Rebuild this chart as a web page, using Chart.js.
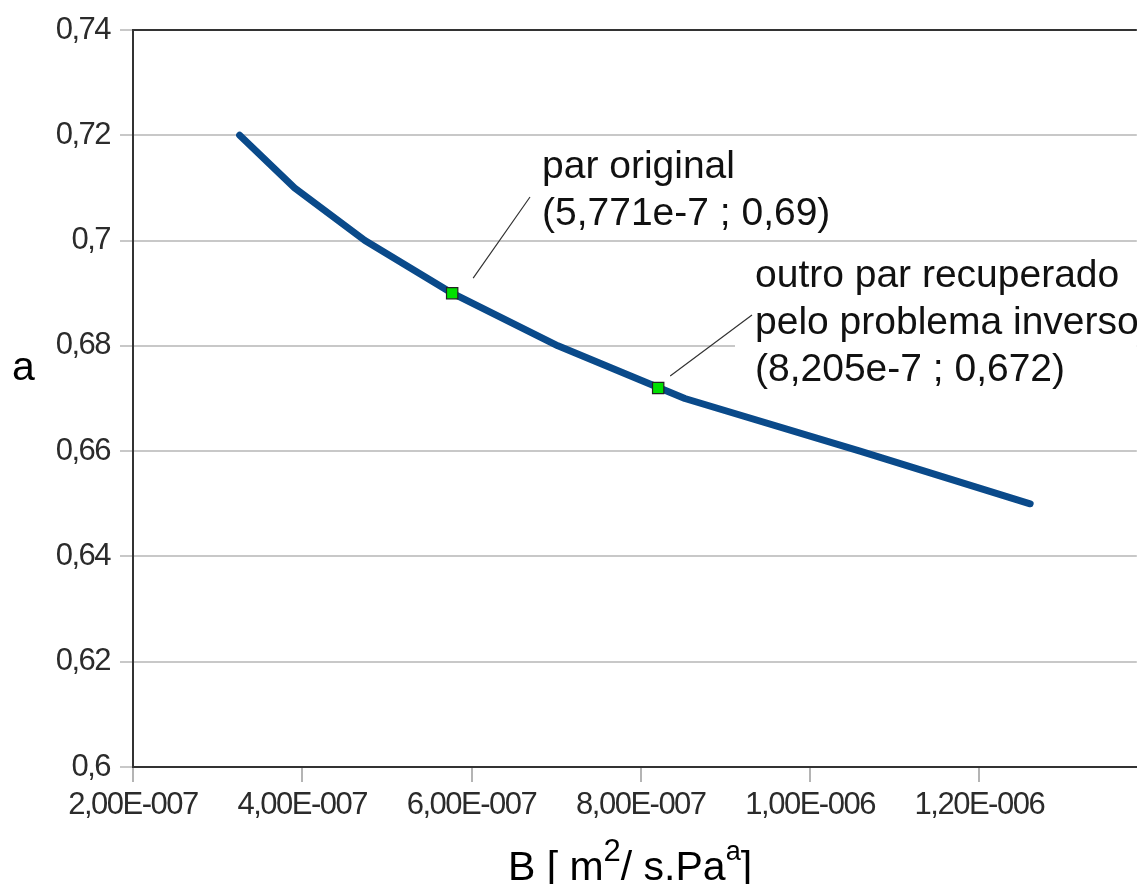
<!DOCTYPE html>
<html>
<head>
<meta charset="utf-8">
<script src="https://cdn.jsdelivr.net/npm/chart.js@4/dist/chart.umd.min.js"></script>
<style>
  html, body { margin: 0; padding: 0; background: #fff; overflow: hidden; }
  canvas { display: block; }
</style>
</head>
<body>
<canvas id="chart" width="1146" height="884"></canvas>
<script>
// Curve of (B, a) pairs that give the same response
const aValues = [0.72, 0.71, 0.70, 0.69, 0.68, 0.67, 0.66, 0.65];
const bValues = [3.26e-7, 3.91e-7, 4.74e-7, 5.771e-7, 7.02e-7, 8.52e-7, 1.059e-6, 1.26e-6];

// Highlighted pairs
const pairB = [5.771e-7, 8.205e-7];
const pairA = [0.69, 0.672];
const pairTexts = [
  ["par original", "(5,771e-7 ; 0,69)"],
  ["outro par recuperado", "pelo problema inverso", "(8,205e-7 ; 0,672)"]
];

// Axes
const xTicks = [2e-7, 4e-7, 6e-7, 8e-7, 1e-6, 1.2e-6];
const xTickLabels = ["2,00E-007", "4,00E-007", "6,00E-007", "8,00E-007", "1,00E-006", "1,20E-006"];
const yTicks = [0.6, 0.62, 0.64, 0.66, 0.68, 0.70, 0.72, 0.74];
const yTickLabels = ["0,6", "0,62", "0,64", "0,66", "0,68", "0,7", "0,72", "0,74"];
const xRange = [2e-7, 1.386e-6];
const yRange = [0.6, 0.74];
const yTitle = "a";

const TEXT_FONT = '"Liberation Sans", Arial, sans-serif';

const framePlugin = {
  id: 'frame',
  beforeDraw(chart) {
    // condensed tick lettering
    chart.ctx.letterSpacing = '-1.5px';
  },
  afterDatasetsDraw(chart) {
    const ctx = chart.ctx;
    const area = chart.chartArea;
    const xs = chart.scales.x, ys = chart.scales.y;
    ctx.save();
    ctx.letterSpacing = '0px';

    // top frame line
    ctx.strokeStyle = '#333';
    ctx.lineWidth = 2;
    ctx.beginPath();
    ctx.moveTo(area.left - 1, area.top);
    ctx.lineTo(area.right, area.top);
    ctx.stroke();

    // white box behind the second annotation
    ctx.fillStyle = '#fff';
    ctx.fillRect(735, 255, area.right - 735, 140);

    // leader lines
    ctx.strokeStyle = '#333';
    ctx.lineWidth = 1.2;
    const p1x = xs.getPixelForValue(pairB[0]), p1y = ys.getPixelForValue(pairA[0]);
    const p2x = xs.getPixelForValue(pairB[1]), p2y = ys.getPixelForValue(pairA[1]);
    ctx.beginPath();
    ctx.moveTo(p1x + 21, p1y - 15);
    ctx.lineTo(530, 197);
    ctx.moveTo(p2x + 12, p2y - 12);
    ctx.lineTo(752, 315);
    ctx.stroke();

    // annotation text
    ctx.fillStyle = '#111';
    ctx.font = '39px ' + TEXT_FONT;
    ctx.textAlign = 'left';
    ctx.textBaseline = 'alphabetic';
    pairTexts[0].forEach((t, i) => ctx.fillText(t, 542, 178 + i * 47));
    pairTexts[1].forEach((t, i) => ctx.fillText(t, 755, 287 + i * 47));

    // axis titles
    ctx.fillStyle = '#000';
    ctx.font = '41px ' + TEXT_FONT;
    ctx.fillText(yTitle, 12, 380);

    // x title with superscripts: B [ m²/ s.Paᵃ]
    const parts = [
      { t: 'B [ m', size: 41, rise: 0 },
      { t: '2', size: 31, rise: 19 },
      { t: '/ s.Pa', size: 41, rise: 0 },
      { t: 'a', size: 27, rise: 20 },
      { t: ']', size: 41, rise: 0 }
    ];
    let total = 0;
    parts.forEach(p => { ctx.font = p.size + 'px ' + TEXT_FONT; p.w = ctx.measureText(p.t).width; total += p.w; });
    let x = 630 - total / 2;
    const base = 880;
    parts.forEach(p => {
      ctx.font = p.size + 'px ' + TEXT_FONT;
      ctx.fillText(p.t, x, base - p.rise);
      x += p.w;
    });
    ctx.restore();
  }
};

new Chart(document.getElementById('chart'), {
  type: 'scatter',
  data: {
    datasets: [
      {
        label: 'pares',
        data: bValues.map((b, i) => ({ x: b, y: aValues[i] })),
        showLine: true,
        borderColor: '#0a4a8a',
        borderWidth: 7,
        borderCapStyle: 'round',
        borderJoinStyle: 'round',
        tension: 0,
        pointRadius: 0,
        order: 2
      },
      {
        label: 'destaque',
        data: pairB.map((b, i) => ({ x: b, y: pairA[i] })),
        showLine: false,
        pointStyle: 'rect',
        pointRadius: 8,
        pointBackgroundColor: '#00e000',
        pointBorderColor: '#222',
        pointBorderWidth: 1.2,
        order: 1
      }
    ]
  },
  options: {
    responsive: false,
    animation: false,
    layout: { padding: { top: 30, right: 0, left: 0, bottom: 0 } },
    plugins: { legend: { display: false }, tooltip: { enabled: false } },
    scales: {
      x: {
        type: 'linear',
        min: xRange[0],
        max: xRange[1],
        afterBuildTicks: s => { s.ticks = xTicks.map(v => ({ value: v })); },
        afterFit: s => { s.height = 117; },
        grid: { drawOnChartArea: false, drawTicks: true, tickLength: 15, color: '#b4b4b4', lineWidth: 2 },
        border: { display: true, color: '#333', width: 2 },
        ticks: {
          autoSkip: false,
          maxRotation: 0,
          padding: 5,
          color: '#2b2b2b',
          font: { family: TEXT_FONT, size: 31 },
          callback: (v, i) => xTickLabels[i]
        }
      },
      y: {
        type: 'linear',
        min: yRange[0],
        max: yRange[1],
        afterBuildTicks: s => { s.ticks = yTicks.map(v => ({ value: v })); },
        afterFit: s => { s.width = 133; },
        grid: { color: '#c8c8c8', lineWidth: 2, tickLength: 13 },
        border: { display: true, color: '#333', width: 2 },
        ticks: {
          padding: 10,
          color: '#2b2b2b',
          font: { family: TEXT_FONT, size: 31 },
          callback: (v, i) => yTickLabels[i]
        }
      }
    }
  },
  plugins: [framePlugin]
});
</script>
</body>
</html>
